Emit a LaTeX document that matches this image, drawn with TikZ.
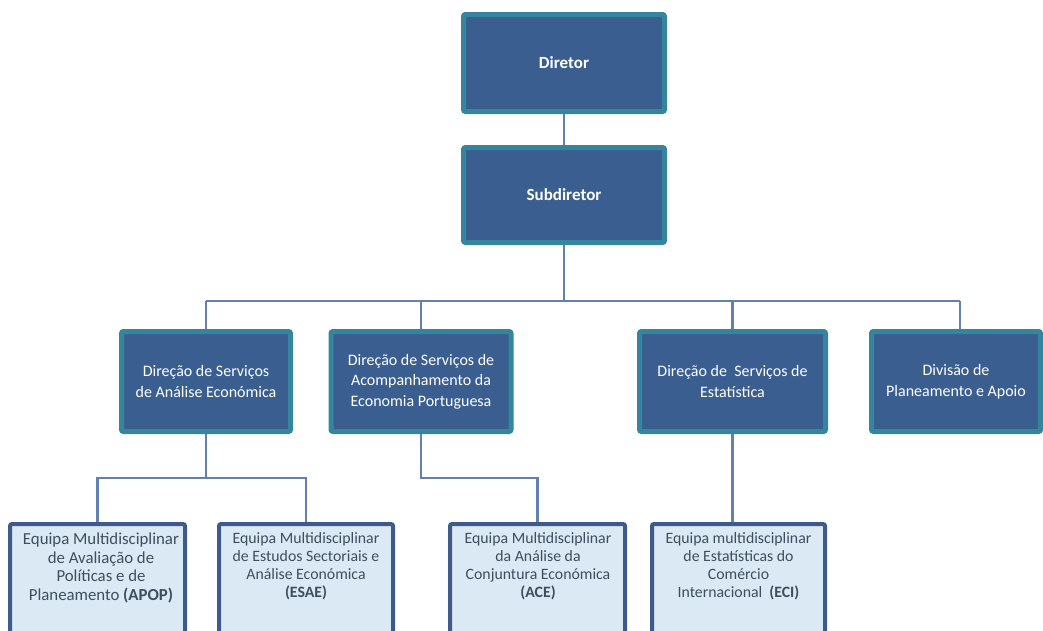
\documentclass[tikz,border=0pt]{standalone}
\usepackage{fontspec}
\setmainfont{Carlito}
\usetikzlibrary{backgrounds}
\definecolor{tealb}{RGB}{52,134,158}
\definecolor{navyf}{RGB}{58,94,143}
\definecolor{connc}{RGB}{98,129,178}
\definecolor{lightf}{RGB}{219,233,245}
\definecolor{lightb}{RGB}{62,91,135}
\definecolor{darkt}{RGB}{61,78,94}
\tikzset{
  topbox/.style={draw=tealb, line width=5pt, fill=navyf, rounded corners=2pt, outer sep=0pt,
    text=white, font=\fontsize{17}{20}\selectfont\bfseries, align=center},
  midbox/.style={draw=tealb, line width=5pt, fill=navyf, rounded corners=2pt, outer sep=0pt,
    text=white, font=\fontsize{16}{20.5}\selectfont, align=center, minimum height=100pt},
  lowbox/.style={draw=lightb, line width=4pt, fill=lightf, rounded corners=2pt, outer sep=0pt,
    minimum height=120pt, anchor=north},
  lowtext/.style={text=darkt, font=\fontsize{15.8}{18}\selectfont, align=center, inner sep=0pt},
  conn/.style={draw=connc, line width=2.2pt}
}
\begin{document}
\begin{tikzpicture}[x=1pt,y=-1pt]
\useasboundingbox (0,0) rectangle (1043,630);
\clip (0,0) rectangle (1043,630);
% top
\node[topbox, minimum width=201pt, minimum height=97pt] (dir) at (564,63) {Diretor};
\node[topbox, minimum width=201pt, minimum height=95pt] (sub) at (564,195) {Subdiretor};
% level 2
\node[midbox, minimum width=169pt] (dsae) at (206,381.5) {Direção de Serviços\\de Análise Económica};
\node[midbox, minimum width=180pt] (dsaep) at (421,381.5) {Direção de Serviços de\\Acompanhamento da\\Economia Portuguesa};
\node[midbox, minimum width=186pt] (dse) at (732.5,381.5) {Direção de\ \ Serviços de\\Estatística};
\node[midbox, minimum width=169pt] (dpa) at (956,381.5) {Divisão de\\Planeamento e Apoio};
% level 3
\node[lowbox, minimum width=175pt] (apopbox) at (97.5,524) {};
\node[lowbox, minimum width=174pt] (esaebox) at (306,524) {};
\node[lowbox, minimum width=175pt] (acebox) at (537.5,524) {};
\node[lowbox, minimum width=173pt] (ecibox) at (738.5,524) {};
\node[lowtext, font=\fontsize{16.8}{18.5}\selectfont] (apop) at (101,568) {Equipa Multidisciplinar\\de Avaliação de\\Políticas e de\\Planeamento \textbf{(APOP)}};
\node[lowtext] (esae) at (306,566) {Equipa Multidisciplinar\\de Estudos Sectoriais e\\Análise Económica\\\textbf{(ESAE)}};
\node[lowtext] (ace) at (538,566) {Equipa Multidisciplinar\\da Análise da\\Conjuntura Económica\\\textbf{(ACE)}};
\node[lowtext] (eci) at (738.5,566) {Equipa multidisciplinar\\de Estatísticas do\\Comércio\\Internacional\ \ \textbf{(ECI)}};
% connectors
\coordinate (busL) at (206,301);
\coordinate (busR) at (960,301);
\coordinate (j1) at (0,478);
\begin{scope}[on background layer]
\draw[conn] (dir.south) -- (sub.north);
\draw[conn] (sub.south) -- (sub.south |- busL);
\draw[conn] (busL) -- (busR);
\draw[conn] (dsae.north) -- (dsae.north |- busL);
\draw[conn] (dsaep.north) -- (dsaep.north |- busL);
\draw[conn] (dse.north) -- (dse.north |- busL);
\draw[conn] (dpa.north -| busR) -- (busR);
\draw[conn] (dsae.south) -- (dsae.south |- j1);
\draw[conn] (apopbox.north) |- (esaebox.north |- j1) -- (esaebox.north);
\draw[conn] (dsaep.south) |- (acebox.north |- j1) -- (acebox.north);
\draw[conn] (dse.south) -- (dse.south |- ecibox.north);
\end{scope}
\end{tikzpicture}
\end{document}
